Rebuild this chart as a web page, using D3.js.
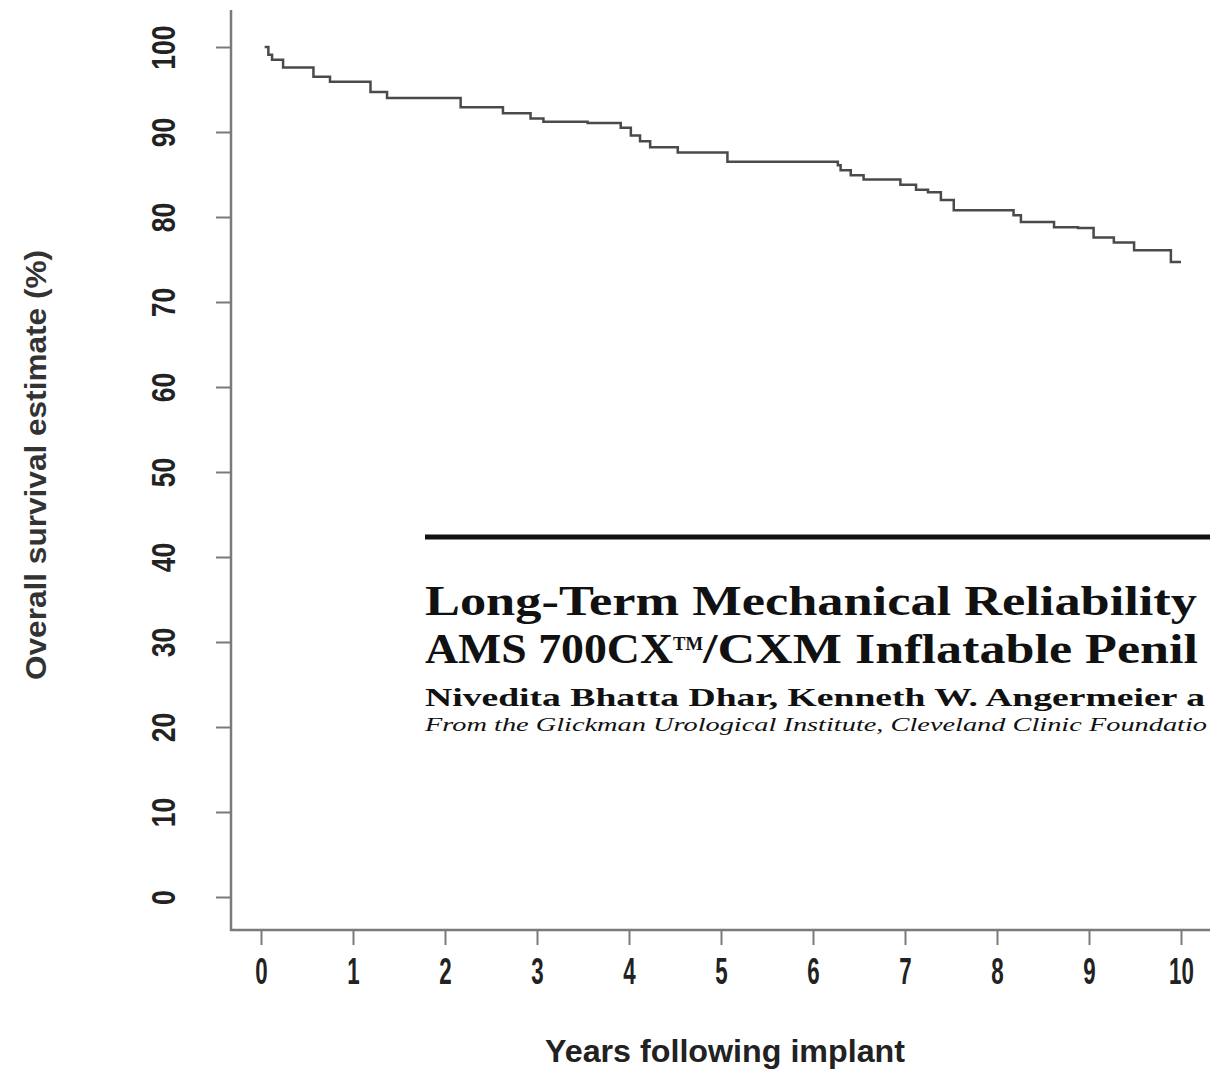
<!DOCTYPE html>
<html>
<head>
<meta charset="utf-8">
<script src="https://cdn.jsdelivr.net/npm/d3@7"></script>
<style>
  body { margin: 0; background: #fff; }
  svg { display: block; }
</style>
</head>
<body>
<script>
// Kaplan-Meier style survival curve
var years    = [0.04, 0.08, 0.12, 0.24, 0.57, 0.75, 1.19, 1.37, 2.17, 2.63, 2.93, 3.07, 3.55, 3.91, 4.02, 4.12, 4.23, 4.53, 5.07, 6.27, 6.30, 6.41, 6.55, 6.95, 7.12, 7.25, 7.39, 7.53, 8.18, 8.26, 8.62, 8.88, 9.05, 9.27, 9.49, 9.89, 10.0];
var survival = [100, 99.1, 98.5, 97.6, 96.5, 95.9, 94.7, 94.0, 92.9, 92.2, 91.6, 91.2, 91.05, 90.5, 89.6, 88.9, 88.2, 87.6, 86.5, 86.1, 85.5, 84.9, 84.4, 83.8, 83.2, 82.9, 82.0, 80.8, 80.2, 79.4, 78.8, 78.7, 77.6, 77.0, 76.1, 74.7, 74.7];

var xTicks = [0, 1, 2, 3, 4, 5, 6, 7, 8, 9, 10];
var yTicks = [0, 10, 20, 30, 40, 50, 60, 70, 80, 90, 100];

// article header text overlapping the plot (only the part visible in the crop)
var titleLine1 = "Long-Term Mechanical Reliability";
var titleLine2a = "AMS 700CX";
var titleLine2b = "/CXM Inflatable Penil";
var authors = "Nivedita Bhatta Dhar, Kenneth W. Angermeier a";
var affiliation = "From the Glickman Urological Institute, Cleveland Clinic Foundatio";

var svg = d3.select("body").append("svg")
            .attr("width", 1210)
            .attr("height", 1070);

var x = d3.scaleLinear().domain([0, 10]).range([261, 1181]);
var y = d3.scaleLinear().domain([0, 100]).range([897, 47]);

var axisColor = "#7a7a7a";
var labelFont = "Liberation Sans, Arial, sans-serif";

// axis lines
svg.append("line").attr("x1", 231).attr("x2", 231).attr("y1", 10).attr("y2", 931)
   .attr("stroke", axisColor).attr("stroke-width", 2.5);
svg.append("line").attr("x1", 230).attr("x2", 1210).attr("y1", 930).attr("y2", 930)
   .attr("stroke", axisColor).attr("stroke-width", 2.5);

// y axis
var gy = svg.append("g").attr("transform", "translate(231,0)")
            .call(d3.axisLeft(y).tickValues(yTicks).tickSize(15).tickSizeOuter(0).tickPadding(0));
gy.select(".domain").remove();
gy.selectAll(".tick line").attr("stroke", axisColor).attr("stroke-width", 2);
gy.selectAll(".tick text")
  .attr("x", null).attr("dy", "0.36em")
  .attr("transform", "translate(-68,0) rotate(-90) scale(0.78,1)")
  .attr("text-anchor", "middle")
  .attr("font-family", labelFont).attr("font-weight", "bold")
  .attr("font-size", 34).attr("fill", "#222");

// x axis
var gx = svg.append("g").attr("transform", "translate(0,930)")
            .call(d3.axisBottom(x).tickValues(xTicks).tickSize(15).tickSizeOuter(0).tickPadding(0));
gx.select(".domain").remove();
gx.selectAll(".tick line").attr("stroke", axisColor).attr("stroke-width", 2);
gx.selectAll(".tick text")
  .attr("y", 0).attr("dy", 0)
  .attr("transform", "translate(0,54) scale(0.62,1)")
  .attr("font-family", labelFont).attr("font-weight", "bold")
  .attr("font-size", 36).attr("fill", "#222");

// axis titles
svg.append("text")
   .attr("x", 725).attr("y", 1062)
   .attr("text-anchor", "middle")
   .attr("font-family", labelFont).attr("font-weight", "bold")
   .attr("font-size", 32).attr("fill", "#222")
   .attr("textLength", 360).attr("lengthAdjust", "spacingAndGlyphs")
   .text("Years following implant");

svg.append("text")
   .attr("transform", "translate(46,465) rotate(-90)")
   .attr("text-anchor", "middle")
   .attr("font-family", labelFont).attr("font-weight", "bold")
   .attr("font-size", 30).attr("fill", "#333")
   .attr("textLength", 430).attr("lengthAdjust", "spacingAndGlyphs")
   .text("Overall survival estimate (%)");

// survival curve
var line = d3.line()
             .x(function(d, i) { return x(years[i]); })
             .y(function(d) { return y(d); })
             .curve(d3.curveStepAfter);
svg.append("path").datum(survival)
   .attr("d", line)
   .attr("fill", "none")
   .attr("stroke", "#4a4a4a")
   .attr("stroke-width", 2.5);

// overlapping article header
var serif = "Liberation Serif, Times New Roman, serif";
svg.append("line").attr("x1", 425).attr("x2", 1210).attr("y1", 537).attr("y2", 537)
   .attr("stroke", "#111").attr("stroke-width", 5);

svg.append("text").attr("x", 425).attr("y", 615)
   .attr("font-family", serif).attr("font-weight", "bold").attr("font-size", 42).attr("fill", "#111")
   .attr("textLength", 772).attr("lengthAdjust", "spacingAndGlyphs")
   .text(titleLine1);

var t2 = svg.append("text").attr("x", 425).attr("y", 663)
   .attr("font-family", serif).attr("font-weight", "bold").attr("font-size", 42).attr("fill", "#111");
t2.append("tspan").attr("textLength", 248).attr("lengthAdjust", "spacingAndGlyphs").text(titleLine2a);
t2.append("tspan").attr("font-size", 19).attr("dy", -13).attr("textLength", 30).attr("lengthAdjust", "spacingAndGlyphs").text("TM");
t2.append("tspan").attr("dy", 13).attr("textLength", 495).attr("lengthAdjust", "spacingAndGlyphs").text(titleLine2b);

svg.append("text").attr("x", 425).attr("y", 706)
   .attr("font-family", serif).attr("font-weight", "bold").attr("font-size", 26).attr("fill", "#111")
   .attr("textLength", 780).attr("lengthAdjust", "spacingAndGlyphs")
   .text(authors);

svg.append("text").attr("x", 425).attr("y", 731)
   .attr("font-family", serif).attr("font-style", "italic").attr("font-size", 19).attr("fill", "#111")
   .attr("textLength", 782).attr("lengthAdjust", "spacingAndGlyphs")
   .text(affiliation);
</script>
</body>
</html>
